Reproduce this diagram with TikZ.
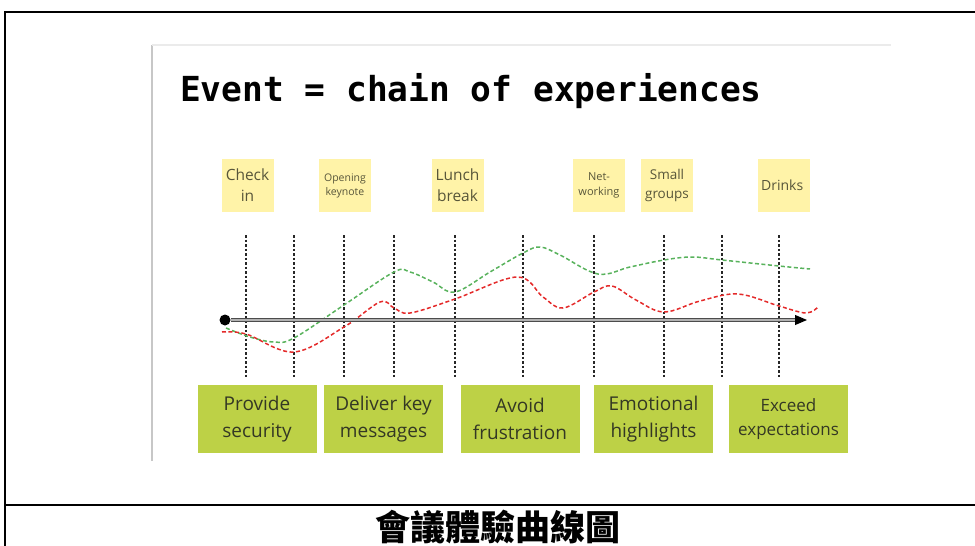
\documentclass[tikz,border=0pt]{standalone}
\usepackage{fontspec}
\setmainfont{Open Sans}
\newfontfamily\titlefont{DejaVu Sans Mono}
\newfontfamily\cjkfont{Noto Sans CJK TC}
\usepackage{tikz}
\usetikzlibrary{arrows.meta}
\usetikzlibrary{positioning}
\usetikzlibrary{calc}
\definecolor{notefill}{RGB}{255,243,168}
\definecolor{notetext}{RGB}{88,86,58}
\definecolor{goalfill}{RGB}{189,209,70}
\definecolor{goaltext}{RGB}{52,56,36}
\definecolor{moodgreen}{RGB}{88,178,92}
\definecolor{moodred}{RGB}{228,42,42}
\tikzset{basic box/.style={inner sep=0pt,align=center}}
\tikzset{note/.style={basic box,
                      fill=notefill,
                      text=notetext,
                      minimum width=52pt,
                      minimum height=53pt}}
\tikzset{goalbox/.style={basic box,
                      fill=goalfill,
                      text=goaltext,
                      minimum width=119pt,
                      minimum height=68pt,
                      font=\fontsize{19}{27}\selectfont}}
\tikzset{mood/.style={draw,
                      dashed,
                      dash pattern=on 4pt off 2.5pt,
                      line width=1.5pt}}
\newcommand{\fsz}[2]{\fontsize{#1}{#2}\selectfont}

\begin{document}
\begin{tikzpicture}
      [
      x=1pt,y=-1pt,
      tick line/.style={draw,black!85,line width=1.1pt,dash pattern=on 2.5pt off 2pt},
      start dot/.style={circle,fill=black,inner sep=0pt,minimum size=11pt},
      time axis/.style={draw=black!70,double=black!30,double distance=1.8pt,line width=1.1pt},
      ]
      \useasboundingbox (0,0) rectangle (975,546);

      % frame
      \draw [line width=2pt] (5,546) -- (5,12) -- (975,12);
      \draw [line width=2pt] (5,505) -- (975,505);
      \draw [black!22,line width=1.2pt] (152,461) -- (152,45);
      \draw [black!8,line width=1.2pt] (152,45) -- (891,45);

      % title
      \node [anchor=base west,inner sep=0pt] (title) at (180,101)
      {\titlefont\bfseries\fsz{34.5}{40}Event = chain of experiences};

      % sticky notes
      \foreach \idx/\px/\fsize/\lskip/\txt in
      {
      1/247.5/15.5/21/{Check\\in},
      2/345/10.5/14/{Opening\\keynote},
      3/457.5/15.5/21/{Lunch\\break},
      4/599/11/15/{Net-\\working},
      5/667/13.5/19/{Small\\groups},
      6/784/14/19/{Drinks}
      }
      {
      \node [note,font=\fsz{\fsize}{\lskip}] (N\idx) at (\px,185.5) {\txt};
      }

      % goals
      \node [goalbox] (G1) at (257,419) {Provide\\security};
      \node [goalbox] (G2) at (383.5,419) {Deliver key\\messages};
      \node [goalbox] (G3) at (520,419) {Avoid\\frustration};
      \node [goalbox] (G4) at (653.5,419) {Emotional\\highlights};
      \node [goalbox,font=\fsz{17}{24}] (G5) at (788.5,419) {Exceed\\expectations};

      % time marks
      \foreach \idx/\px in {1/246,2/294,3/344,4/394,5/455,6/523,7/594,8/664,9/722,10/779}
      {
      \coordinate (T\idx) at (\px,235);
      \coordinate (B\idx) at (\px,377);
      \draw [tick line] (T\idx) -- (B\idx);
      }

      % caption
      \node [inner sep=0pt] (caption) at (498,527)
      {\cjkfont\bfseries\fsz{35}{40}會議體驗曲線圖};

      % experience curves
      \draw [mood,moodgreen] plot [smooth,tension=0.6] coordinates
      {(226,328) (250,337) (274,342) (294,338) (344,305) (394,272) (410,272)
       (433,282) (455,292) (490,272) (523,253) (540,247) (560,255) (598,274)
       (630,267) (664,260) (692,257) (722,260) (779,266) (810,269)};

      \draw [mood,moodred] plot [smooth,tension=0.6] coordinates
      {(222,332) (246,334) (294,352) (344,327) (380,302) (394,308) (410,313)
       (455,299) (517,277) (543,297) (563,308) (594,292) (612,286) (636,300)
       (664,312) (700,301) (738,294) (779,306) (806,313) (818,307)};

      % time axis
      \node [start dot] (start) at (225,320) {};
      \coordinate (axisend) at (807,320);
      \coordinate (tipbase) at ($(axisend)+(-12,0)$);
      \draw [time axis] (start) -- (tipbase);
      \draw [-{Triangle[length=12pt,width=10pt]},line width=1pt] (tipbase) -- (axisend);

\end{tikzpicture}
\end{document}
